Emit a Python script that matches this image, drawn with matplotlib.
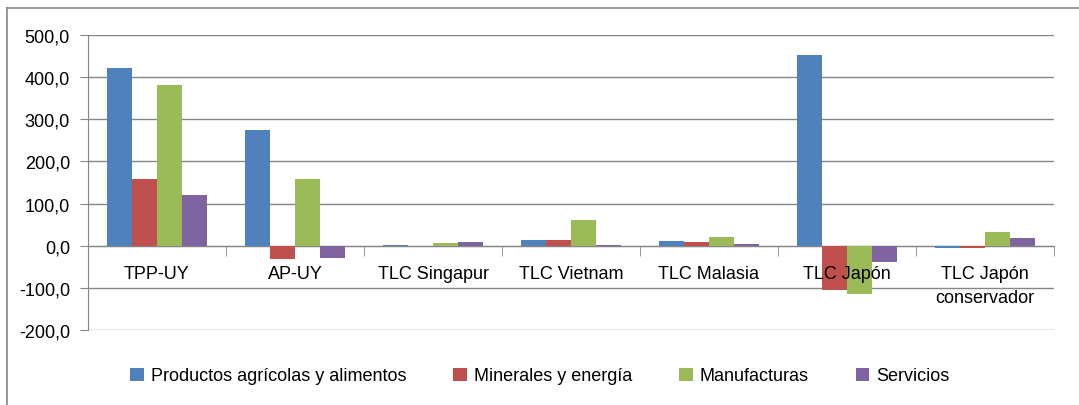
import matplotlib
matplotlib.use("Agg")
import matplotlib.pyplot as plt
from matplotlib.lines import Line2D
from matplotlib.ticker import FuncFormatter

plt.rcParams['font.family'] = ['Liberation Sans Narrow', 'Liberation Sans', 'DejaVu Sans']

# Data
categorias = ["TPP-UY", "AP-UY", "TLC Singapur", "TLC Vietnam", "TLC Malasia",
              "TLC Japón", "TLC Japón\nconservador"]
series = ["Productos agrícolas y alimentos", "Minerales y energía",
          "Manufacturas", "Servicios"]
productos = [422, 275, 2, 14, 12, 452, -5]
minerales = [159, -31, 0.3, 14, 9, -104, -5]
manufacturas = [381, 159, 7, 62, 20, -115, 33]
servicios = [121, -30, 9, 1.5, 3, -38, 19]
colores = ["#4F81BD", "#C0504D", "#9BBB59", "#8064A2"]

W, H = 1079, 406
fig = plt.figure(figsize=(W / 100, H / 100), dpi=100)
ax = fig.add_axes([88 / W, 1 - 331 / H, (1054 - 88) / W, (331 - 36) / H])

GRIS = "#868686"
ancho = 0.18
x = list(range(len(categorias)))
for j, (vals, col, nom) in enumerate(zip([productos, minerales, manufacturas, servicios],
                                         colores, series)):
    ax.bar([i + (j - 1.5) * ancho for i in x], vals, width=ancho, color=col,
           label=nom, zorder=3)

ax.set_axisbelow(True)
ax.set_xlim(-0.5, len(categorias) - 0.5)
ax.set_ylim(-200, 500)
ax.set_yticks(range(-200, 501, 100))
ax.yaxis.set_major_formatter(FuncFormatter(lambda v, p: f"{v:.1f}".replace(".", ",")))
ax.yaxis.grid(True, color=GRIS, linewidth=1)
ax.tick_params(axis="y", length=6, color=GRIS, pad=7, labelsize=13)

# category axis crosses at zero
ax.spines["bottom"].set_position(("data", 0))
ax.spines["bottom"].set_color(GRIS)
ax.spines["left"].set_color(GRIS)
ax.spines["top"].set_visible(False)
ax.spines["right"].set_visible(False)
ax.set_xticks(x)
ax.set_xticklabels([])
ax.set_xticks([i - 0.5 for i in range(len(categorias) + 1)], minor=True)
ax.tick_params(axis="x", which="major", length=0)
ax.tick_params(axis="x", which="minor", length=7, color=GRIS)

# category labels drawn over the bars, like in the original
for i, cat in enumerate(categorias):
    ax.annotate(cat, xy=(i, 0), xytext=(0, -14), textcoords="offset points",
                ha="center", va="top", fontsize=13, linespacing=1.5, zorder=6)

fig.legend(loc="center", bbox_to_anchor=(540 / W, 1 - 377 / H), ncol=4, frameon=False,
           fontsize=13, handlelength=0.75, handleheight=0.75, handletextpad=0.4,
           columnspacing=2.6)

# outer chart frame
fig.add_artist(Line2D([7 / W, 7 / W], [0, 1 - 9 / H], color=GRIS, linewidth=1.2))
fig.add_artist(Line2D([7 / W, 1], [1 - 9 / H, 1 - 9 / H], color=GRIS, linewidth=1.2))

fig.savefig("out.png", dpi=100)
